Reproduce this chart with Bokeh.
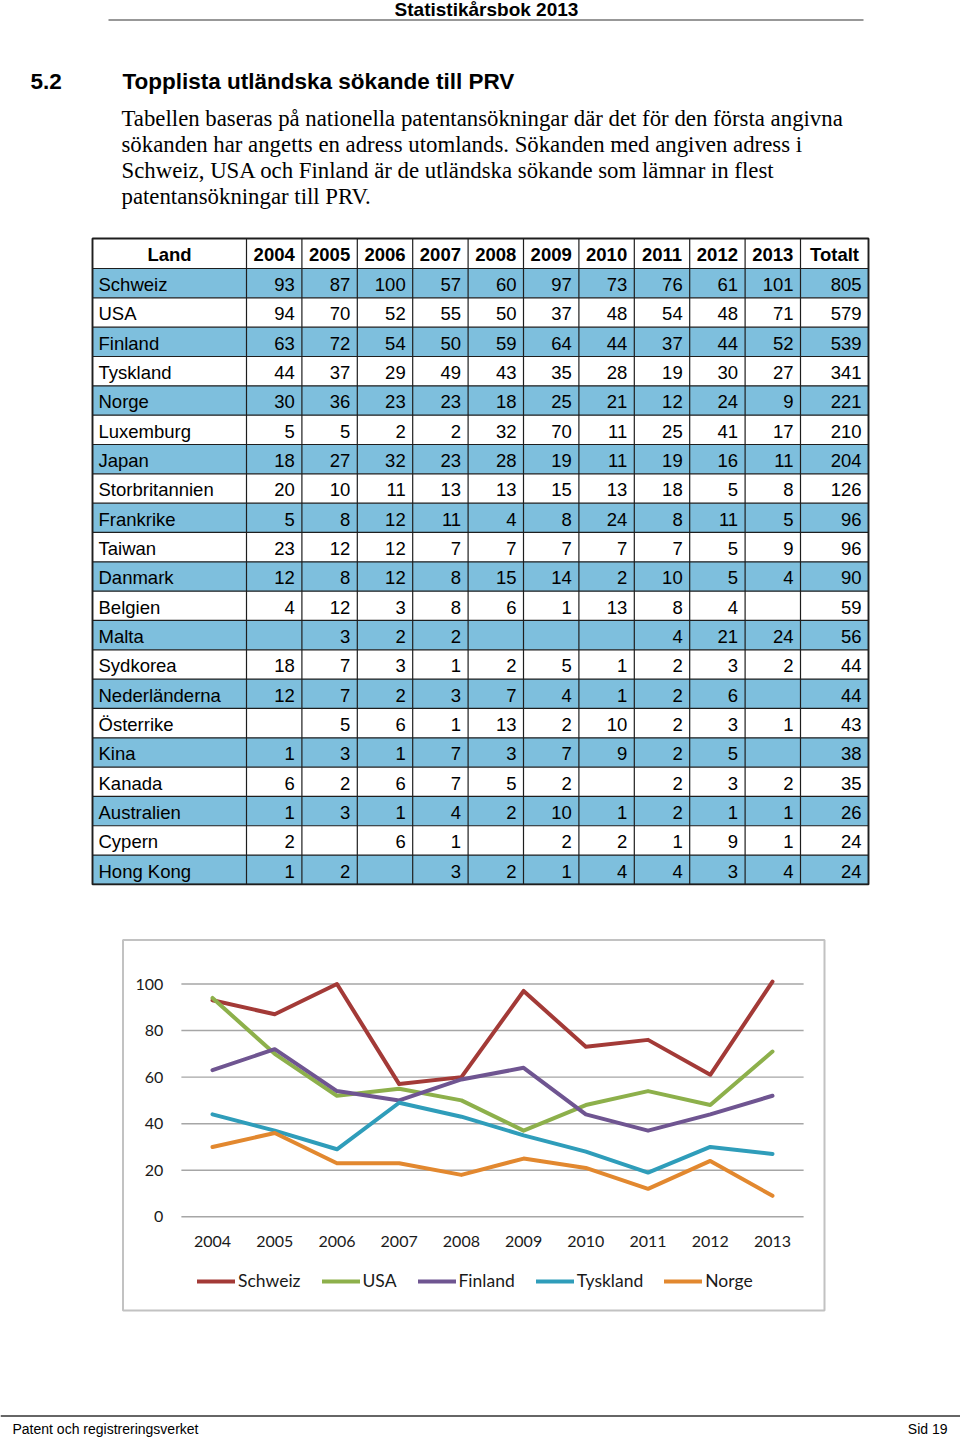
from bokeh.plotting import figure
from bokeh.models import Range1d, FixedTicker, Legend, LegendItem, LinearAxis
from bokeh.core.properties import value
from bokeh.embed import file_html
from bokeh.resources import INLINE

# ---------------- data ----------------
page_header = "Statistikårsbok 2013"
section_no = "5.2"
section_title = "Topplista utländska sökande till PRV"
paragraph_lines = [
    "Tabellen baseras på nationella patentansökningar där det för den första angivna",
    "sökanden har angetts en adress utomlands. Sökanden med angiven adress i",
    "Schweiz, USA och Finland är de utländska sökande som lämnar in flest",
    "patentansökningar till PRV.",
]
footer_left = "Patent och registreringsverket"
footer_right = "Sid 19"

years = [2004, 2005, 2006, 2007, 2008, 2009, 2010, 2011, 2012, 2013]
table_header = ["Land"] + [str(y) for y in years] + ["Totalt"]
countries = ["Schweiz", "USA", "Finland", "Tyskland", "Norge", "Luxemburg", "Japan",
             "Storbritannien", "Frankrike", "Taiwan", "Danmark", "Belgien", "Malta",
             "Sydkorea", "Nederländerna", "Österrike", "Kina", "Kanada", "Australien",
             "Cypern", "Hong Kong"]
schweiz = [93, 87, 100, 57, 60, 97, 73, 76, 61, 101]
usa = [94, 70, 52, 55, 50, 37, 48, 54, 48, 71]
finland = [63, 72, 54, 50, 59, 64, 44, 37, 44, 52]
tyskland = [44, 37, 29, 49, 43, 35, 28, 19, 30, 27]
norge = [30, 36, 23, 23, 18, 25, 21, 12, 24, 9]
luxemburg = [5, 5, 2, 2, 32, 70, 11, 25, 41, 17]
japan = [18, 27, 32, 23, 28, 19, 11, 19, 16, 11]
storbritannien = [20, 10, 11, 13, 13, 15, 13, 18, 5, 8]
frankrike = [5, 8, 12, 11, 4, 8, 24, 8, 11, 5]
taiwan = [23, 12, 12, 7, 7, 7, 7, 7, 5, 9]
danmark = [12, 8, 12, 8, 15, 14, 2, 10, 5, 4]
belgien = [4, 12, 3, 8, 6, 1, 13, 8, 4, None]
malta = [None, 3, 2, 2, None, None, None, 4, 21, 24]
sydkorea = [18, 7, 3, 1, 2, 5, 1, 2, 3, 2]
nederlanderna = [12, 7, 2, 3, 7, 4, 1, 2, 6, None]
osterrike = [None, 5, 6, 1, 13, 2, 10, 2, 3, 1]
kina = [1, 3, 1, 7, 3, 7, 9, 2, 5, None]
kanada = [6, 2, 6, 7, 5, 2, None, 2, 3, 2]
australien = [1, 3, 1, 4, 2, 10, 1, 2, 1, 1]
cypern = [2, None, 6, 1, None, 2, 2, 1, 9, 1]
hong_kong = [1, 2, None, 3, 2, 1, 4, 4, 3, 4]
totals = [805, 579, 539, 341, 221, 210, 204, 126, 96, 96, 90, 59, 56, 44, 44, 43, 38, 35, 26, 24, 24]

table_rows = [schweiz, usa, finland, tyskland, norge, luxemburg, japan, storbritannien,
              frankrike, taiwan, danmark, belgien, malta, sydkorea, nederlanderna,
              osterrike, kina, kanada, australien, cypern, hong_kong]

series_names = ["Schweiz", "USA", "Finland", "Tyskland", "Norge"]
series_values = [schweiz, usa, finland, tyskland, norge]
series_colors = ["#A33A37", "#8DB04B", "#6F5591", "#2F9DBA", "#E2882F"]
y_ticks = [0, 20, 40, 60, 80, 100]

# ---------------- styles ----------------
SANS = "Liberation Sans"
SERIF = "Liberation Serif"
CHART_FONT = "Lato"
TABLE_BLUE = "#7EBFDD"
LINE_DARK = "#1e1e1e"
BOX_GRAY = "#c2c2c2"
PAGE_W, PAGE_H = 960, 1438

# chart placement on the page (pixels)
PX_X0, PX_X1 = 212.0, 772.0      # centre of first / last year
PX_Y0, PX_Y100 = 1216.3, 983.5   # value 0 / value 100
ux = (PX_X1 - PX_X0) / (years[-1] - years[0])
uy = (PX_Y0 - PX_Y100) / 100.0
chart_x_range = Range1d(years[0] - PX_X0 / ux, years[-1] + (PAGE_W - PX_X1) / ux)
chart_y_range = Range1d(-(PAGE_H - PX_Y0) / uy, 100 + PX_Y100 / uy)

p = figure(width=PAGE_W, height=PAGE_H, x_range=Range1d(0, PAGE_W), y_range=Range1d(PAGE_H, 0),
           output_backend="svg", toolbar_location=None, min_border=0,
           x_axis_location=None, y_axis_location=None)
p.extra_x_ranges = {"cx": chart_x_range}
p.extra_y_ranges = {"cy": chart_y_range}
p.grid.visible = False
p.outline_line_color = None
p.background_fill_color = "white"
p.border_fill_color = "white"


def txt(xs, ys, ss, size, font=SANS, style="normal", align="left",
        baseline="middle", color="#000000"):
    p.text(x=xs, y=ys, text=ss, text_font=value(font), text_font_size=size,
           text_font_style=style, text_align=align, text_baseline=baseline,
           text_color=color)


# ---------------- header / title / paragraph ----------------
txt([486], [9], [page_header], "19px", style="bold", align="center")
p.segment(x0=[108], y0=[19.5], x1=[863], y1=[19.5], line_color="#333333", line_width=1.2)

txt([30], [80.5], [section_no], "22.5px", style="bold")
txt([122], [80.5], [section_title], "22.5px", style="bold")

txt([121] * len(paragraph_lines), [117.5 + 26.1 * i for i in range(len(paragraph_lines))],
    paragraph_lines, "22.8px", font=SERIF)

# ---------------- table ----------------
tbl_left, land_right, year_w, tot_right = 92, 246, 55.4, 868
tbl_top, head_h, row_h = 238, 30, 29.33
col_edges = [tbl_left, land_right] + [land_right + year_w * (i + 1) for i in range(len(years))] + [tot_right]
row_edges = [tbl_top, tbl_top + head_h] + [tbl_top + head_h + row_h * (i + 1) for i in range(len(countries))]

blue_idx = [i for i in range(len(countries)) if i % 2 == 0]
p.quad(left=[tbl_left] * len(blue_idx), right=[tot_right] * len(blue_idx),
       top=[row_edges[i + 1] for i in blue_idx], bottom=[row_edges[i + 2] for i in blue_idx],
       fill_color=TABLE_BLUE, line_color=None)
p.segment(x0=[tbl_left] * len(row_edges), x1=[tot_right] * len(row_edges),
          y0=row_edges, y1=row_edges, line_color=LINE_DARK, line_width=1.2)
p.segment(x0=col_edges, x1=col_edges, y0=[tbl_top] * len(col_edges),
          y1=[row_edges[-1]] * len(col_edges), line_color=LINE_DARK, line_width=1.2)
p.quad(left=[tbl_left], right=[tot_right], top=[tbl_top], bottom=[row_edges[-1]],
       fill_color=None, line_color=LINE_DARK, line_width=1.8)

hx = [(col_edges[i] + col_edges[i + 1]) / 2 for i in range(len(table_header))]
txt(hx, [tbl_top + head_h / 2 + 1] * len(hx), table_header, "18.5px", style="bold", align="center")

name_y = [row_edges[i + 1] + row_h / 2 + 1.5 for i in range(len(countries))]
txt([98] * len(countries), name_y, countries, "18.5px")
vx, vy, vs = [], [], []
for i, vals in enumerate(table_rows):
    for j, v in enumerate(vals + [totals[i]]):
        if v is None:
            continue
        vx.append(col_edges[j + 2] - 7)
        vy.append(name_y[i])
        vs.append(str(v))
txt(vx, vy, vs, "18.5px", align="right")

# ---------------- chart ----------------
# light-gray frame around the chart area
p.quad(left=[122.5], right=[824], top=[939.5], bottom=[1310], fill_color=None,
       line_color=BOX_GRAY, line_width=2)

# horizontal grid lines at the y ticks, spanning the category slots
x_lo, x_hi = years[0] - 0.5, years[-1] + 0.5
p.segment(x0=[x_lo] * len(y_ticks), x1=[x_hi] * len(y_ticks), y0=y_ticks, y1=y_ticks,
          x_range_name="cx", y_range_name="cy", line_color="#a6a6a6", line_width=1.4)

items = []
for name, vals, col in zip(series_names, series_values, series_colors):
    r = p.line(x=years, y=vals, x_range_name="cx", y_range_name="cy", line_color=col,
               line_width=4, line_cap="round", line_join="round")
    items.append(LegendItem(label=name, renderers=[r]))

yaxis = LinearAxis(x_range_name="cx", y_range_name="cy", fixed_location=x_lo,
                   ticker=FixedTicker(ticks=y_ticks))
xaxis = LinearAxis(x_range_name="cx", y_range_name="cy", fixed_location=0,
                   ticker=FixedTicker(ticks=years))
for ax in (xaxis, yaxis):
    ax.axis_line_color = None
    ax.major_tick_line_color = None
    ax.minor_tick_line_color = None
    ax.major_label_text_font = CHART_FONT
    ax.major_label_text_font_size = "16px"
    ax.major_label_text_color = "#1a1a1a"
yaxis.major_label_standoff = 12
xaxis.major_label_standoff = 13
p.add_layout(yaxis, "left")
p.add_layout(xaxis, "below")

legend = Legend(items=items, orientation="horizontal", location=(197, 147), margin=0, padding=8,
                spacing=21, glyph_width=38, glyph_height=20, label_height=20, label_standoff=3,
                label_text_font=CHART_FONT, label_text_font_size="17.5px", label_text_color="#1a1a1a",
                border_line_color=None, background_fill_alpha=0)
p.add_layout(legend)

# ---------------- footer ----------------
p.segment(x0=[0], y0=[1415.5], x1=[960], y1=[1415.5], line_color="#333333", line_width=1.6)
txt([12], [1428.5], [footer_left], "14px")
txt([947], [1428.5], [footer_right], "14px", align="right")

with open("out.html", "w") as fh:
    fh.write(file_html(p, INLINE))
